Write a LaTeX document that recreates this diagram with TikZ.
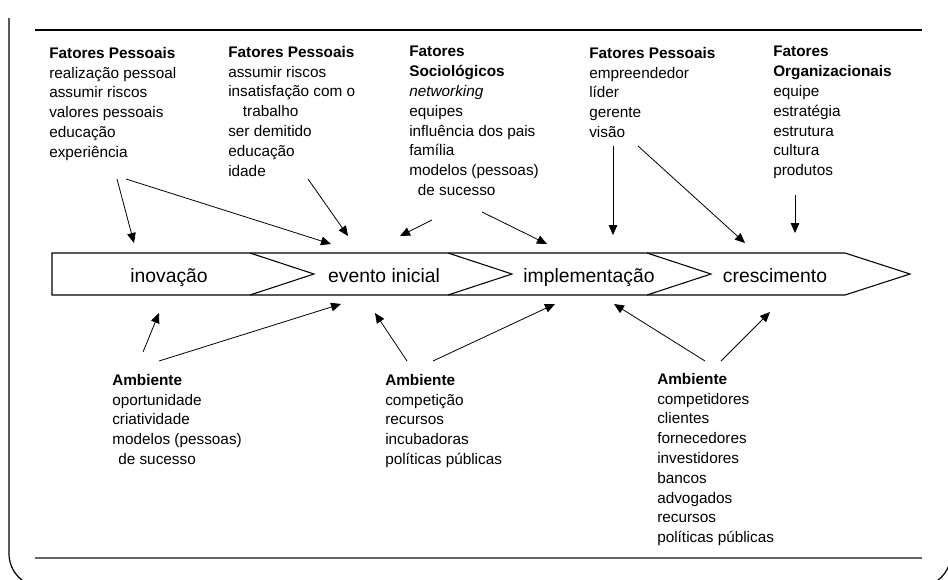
\documentclass[tikz,border=0pt]{standalone}
\usepackage{fontspec}
\setmainfont{Liberation Sans}
\usetikzlibrary{arrows.meta}

\begin{document}
\begin{tikzpicture}[x=0.75pt, y=-0.75pt,
        bloco/.style={anchor=north west, inner sep=0pt, align=left, font=\fontsize{11.5}{14.85}\selectfont},
        etapa/.style={anchor=base, inner sep=0pt, font=\fontsize{14.5}{17}\selectfont},
        seta/.style={line width=0.6pt, -{Triangle[length=7.5pt, width=6.5pt]}}]
        \clip (0,0) rectangle (948,579);

        % moldura
        \draw[line width=0.9pt, rounded corners=25pt] (9,18) -- (9,587) -- (951,587) -- (951,18);
        \draw[line width=0.8pt] (35,30) -- (922,30);
        \draw[gray!80!black, line width=1.1pt] (35,558) -- (922,558);

        % faixa de etapas
        \draw[line width=0.8pt] (52,253) -- (845,253) -- (910,274) -- (845,295) -- (52,295) -- cycle;
        \foreach \x in {250,448,647}
            \draw[line width=0.8pt] (\x,253) -- (\x+64,274) -- (\x,295);

        \node[etapa] (inovacao) at (169,282) {inovação};
        \node[etapa] (evento) at (384,282) {evento inicial};
        \node[etapa] (implem) at (589,282) {implementação};
        \node[etapa] (cresc) at (775,282) {crescimento};

        % fatores (em cima)
        \node[bloco] (fp1) at (49,47) {\textbf{Fatores Pessoais}\\realização pessoal\\assumir riscos\\valores pessoais\\educação\\experiência};
        \node[bloco] (fp2) at (228,46) {\textbf{Fatores Pessoais}\\assumir riscos\\insatisfação com o\\\hspace{11pt}trabalho\\ser demitido\\educação\\idade};
        \node[bloco] (fs) at (409,46) {\textbf{Fatores}\\\textbf{Sociológicos}\\\textit{networking}\\equipes\\influência dos pais\\família\\modelos (pessoas)\\\hspace{6.5pt}de sucesso};
        \node[bloco] (fp3) at (589,47) {\textbf{Fatores Pessoais}\\empreendedor\\líder\\gerente\\visão};
        \node[bloco] (fo) at (773,46) {\textbf{Fatores}\\\textbf{Organizacionais}\\equipe\\estratégia\\estrutura\\cultura\\produtos};

        % ambiente (embaixo)
        \node[bloco] (amb1) at (112,374) {\textbf{Ambiente}\\oportunidade\\criatividade\\modelos (pessoas)\\\hspace{4.5pt}de sucesso};
        \node[bloco] (amb2) at (385,374) {\textbf{Ambiente}\\competição\\recursos\\incubadoras\\políticas públicas};
        \node[bloco] (amb3) at (657,373) {\textbf{Ambiente}\\competidores\\clientes\\fornecedores\\investidores\\bancos\\advogados\\recursos\\políticas públicas};

        % pontas das setas
        \coordinate (a1) at (117,179); \coordinate (a1f) at (134,243);
        \coordinate (a2) at (126,179); \coordinate (a2f) at (331,244);
        \coordinate (a3) at (308,179); \coordinate (a3f) at (348,236);
        \coordinate (a4) at (432,220); \coordinate (a4f) at (400,236);
        \coordinate (a5) at (482,212); \coordinate (a5f) at (547,244);
        \coordinate (a6) at (613,146); \coordinate (a6f) at (613,235);
        \coordinate (a7) at (638,146); \coordinate (a7f) at (745,243);
        \coordinate (a8) at (795,195); \coordinate (a8f) at (795,233);
        \coordinate (b1) at (143,352); \coordinate (b1f) at (159,313);
        \coordinate (b2) at (159,361); \coordinate (b2f) at (341,304);
        \coordinate (b3) at (407,361); \coordinate (b3f) at (375,313);
        \coordinate (b4) at (433,361); \coordinate (b4f) at (555,304);
        \coordinate (b5) at (705,361); \coordinate (b5f) at (614,304);
        \coordinate (b6) at (721,361); \coordinate (b6f) at (770,312);

        \foreach \s in {a1,a2,a3,a4,a5,a6,a7,a8,b1,b2,b3,b4,b5,b6}
            \draw[seta] (\s) -- (\s f);
\end{tikzpicture}
\end{document}
